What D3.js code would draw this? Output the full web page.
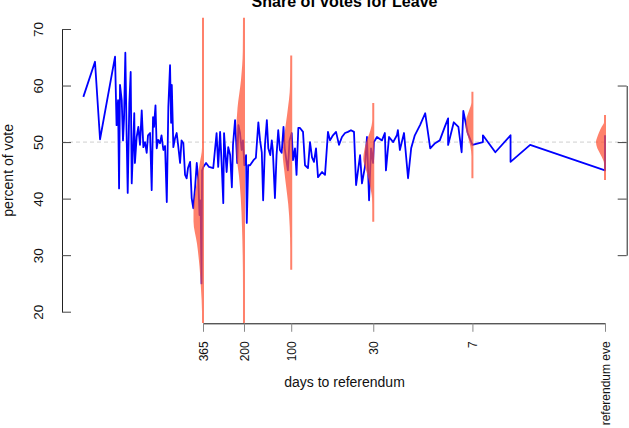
<!DOCTYPE html>
<html>
<head>
<meta charset="utf-8">
<script src="https://cdn.jsdelivr.net/npm/d3@7"></script>
<style>
  body { margin: 0; background: #fff; }
  svg { display: block; font-family: "Liberation Sans", Arial, Helvetica, sans-serif; }
</style>
</head>
<body>
<svg width="629" height="428"></svg>
<script>
// Polls: days before the referendum and share for Leave (%)
var pollDays = [2113, 1781, 1654, 1327, 1298, 1270, 1251, 1234, 1203, 1181,
  1163, 1141, 1121, 1102, 1076, 1055, 1039, 1020, 1001, 991,
  966, 943, 920, 897, 876, 855, 834, 818, 794, 775,
  760, 749, 733, 720, 706, 686, 671, 653, 637, 621,
  607, 592, 583, 577, 564, 550, 537, 526, 511, 500,
  487, 475, 464, 455, 441, 431, 421, 410, 400, 391,
  384, 378, 373, 370, 363, 349, 334, 314, 299, 292,
  284, 277, 271, 268, 258, 252, 245, 239, 235, 228,
  223, 221, 217, 212, 207, 203, 199, 194, 192, 188,
  183, 174, 168, 162, 158, 154, 151, 147, 143, 140,
  136, 133, 131, 127, 124, 121, 118, 115, 112, 110,
  107, 105, 102.5, 99.3, 97.4, 94.6, 92.5, 90.1, 87.9, 84.1,
  81.7, 78.2, 75.9, 73.7, 71.6, 69.5, 67.5, 63.6, 60.9, 58.3,
  56.6, 54.2, 51.8, 49.6, 47.5, 45.4, 43.5, 41.6, 39.8, 38.6,
  36.4, 35.4, 33.9, 32.9, 31.9, 31.0, 30.1, 29.7, 28.4, 26.4,
  25.3, 24.9, 23.8, 22.4, 21.2, 20.9, 20.3, 19.1, 18.0, 17.2,
  16.3, 15.1, 14.0, 13.0, 12.1, 11.3, 10.5, 10.0, 10.0, 9.2,
  8.6, 8.2, 8.0, 7.5, 7.0, 6.0, 6.0, 5.0, 4.0, 4.0,
  3.0, 1, 1];
var pollLeave = [58.0, 64.2, 50.5, 65.1, 53.0, 57.4, 41.8, 60.1, 57.4, 50.3,
  54.2, 65.8, 52.1, 41.0, 56.9, 62.4, 42.7, 48.6, 55.1, 46.3,
  50.9, 52.7, 49.5, 55.6, 49.1, 50.0, 48.1, 51.2, 51.6, 41.5,
  54.4, 52.7, 56.5, 48.9, 50.4, 49.8, 51.2, 48.6, 49.3, 39.4,
  56.2, 63.6, 53.4, 60.1, 49.1, 50.7, 51.6, 49.5, 46.3, 50.3,
  49.8, 44.2, 43.6, 45.4, 46.5, 40.1, 38.3, 42.0, 46.3, 43.3,
  37.1, 39.7, 25.0, 45.0, 45.6, 46.3, 45.6, 45.4, 51.6, 45.6,
  51.8, 45.6, 39.2, 51.6, 44.7, 49.1, 47.7, 42.0, 49.5, 53.9,
  48.6, 46.3, 53.0, 51.6, 48.6, 50.3, 45.9, 47.7, 35.7, 45.9,
  45.9, 46.8, 47.2, 53.5, 50.3, 48.2, 39.7, 49.5, 53.9, 48.9,
  47.7, 50.3, 48.6, 40.1, 47.7, 52.1, 48.6, 48.1, 52.7, 48.9,
  46.5, 45.0, 50.3, 51.6, 46.8, 48.9, 44.2, 52.5, 52.5, 51.8,
  45.9, 45.4, 50.0, 47.3, 46.5, 48.9, 43.8, 44.7, 44.2, 51.8,
  50.3, 51.2, 51.8, 49.5, 50.9, 51.6, 51.8, 52.1, 51.8, 42.4,
  47.7, 42.7, 45.6, 50.9, 39.7, 48.9, 46.3, 50.0, 50.9, 50.3,
  51.6, 45.0, 50.9, 50.0, 51.2, 52.1, 48.6, 51.6, 43.6, 48.9,
  51.2, 53.0, 55.1, 48.9, 49.8, 50.3, 52.7, 54.2, 49.5, 53.5,
  52.7, 48.2, 55.5, 51.6, 49.5, 50.0, 51.2, 48.2, 51.2, 46.5,
  49.5, 45.0, 51.2];

// Axis ticks
var dayTicks = [365, 200, 100, 30, 7, 1];
var dayLabels = ["365", "200", "100", "30", "7", "referendum eve"];
var pctTicks = [20, 30, 40, 50, 60, 70];
var rightTicks = [30, 40, 50, 60];

// Density of the estimate at each tick day
var pct365 = [72, 49, 46, 42, 38, 36, 32, 28, 24, 20, 18];
var dens365 = [0, 0, 0.035, 0.07, 0.095, 0.095, 0.06, 0.035, 0.02, 0.008, 0];
var pct200 = [72, 66, 61, 56, 52, 48, 44, 40, 35, 30, 24, 18];
var dens200 = [0, 0.012, 0.03, 0.065, 0.076, 0.075, 0.05, 0.032, 0.02, 0.013, 0.006, 0];
var pct100 = [65.3, 60, 55, 51, 48, 45, 42, 39, 35, 31, 27.4];
var dens100 = [0, 0.012, 0.04, 0.07, 0.085, 0.07, 0.05, 0.03, 0.015, 0.006, 0];
var pct30 = [56.9, 54, 52, 50, 48, 47, 45.5, 44, 42, 40, 38, 35.9];
var dens30 = [0, 0.008, 0.03, 0.07, 0.095, 0.1, 0.08, 0.055, 0.03, 0.012, 0.004, 0];
var pct7 = [58.9, 57, 55.5, 54, 52.7, 51, 49.2, 47.5, 45.5, 43.6];
var dens7 = [0, 0.01, 0.035, 0.062, 0.068, 0.045, 0.02, 0.007, 0.002, 0];
var pctEve = [54.8, 53.5, 52.7, 51.7, 50.9, 50, 48.9, 48, 47.4, 46.2, 45, 43.3];
var densEve = [0, 0.005, 0.033, 0.06, 0.077, 0.09, 0.077, 0.05, 0.033, 0.007, 0.002, 0];

var svg = d3.select("svg"),
  width = +svg.attr("width"),
  height = +svg.attr("height");

var x = d3.scaleLog().domain([365, 1]).range([203, 605]);
var y = d3.scaleLinear().domain([20, 70]).range([311.7, 29]);
var yRight = d3.scaleLinear().domain([30, 60]).range([y(30), y(60)]);
var wid = d3.scaleLinear().domain([0, 0.1]).range([0, 10]);

// plot region clip
svg.append("defs").append("clipPath").attr("id", "plotclip")
  .append("rect").attr("x", 62).attr("y", 17).attr("width", 565).attr("height", 306);

// reference line at 50%
svg.append("line")
  .attr("x1", 62).attr("x2", 627)
  .attr("y1", y(50)).attr("y2", y(50))
  .attr("stroke", "#cfcfcf")
  .attr("stroke-dasharray", "4,3");

const plot = svg.append("g").attr("clip-path", "url(#plotclip)");

// polls line
var polls = pollDays.map((d, i) => ({ day: d, pct: pollLeave[i] }));
plot.append("path")
  .datum(polls)
  .attr("fill", "none")
  .attr("stroke", "#0000ff")
  .attr("stroke-width", 1.8)
  .attr("stroke-linejoin", "round")
  .attr("d", d3.line().x((d) => x(d.day)).y((d) => y(d.pct)));

// half violins
var violins = [
  { day: 365, pct: pct365, dens: dens365 },
  { day: 200, pct: pct200, dens: dens200 },
  { day: 100, pct: pct100, dens: dens100 },
  { day: 30, pct: pct30, dens: dens30 },
  { day: 7, pct: pct7, dens: dens7 },
  { day: 1, pct: pctEve, dens: densEve }
];

violins.forEach((v) => {
  var cx = x(v.day);
  var pts = v.pct.map((p, i) => ({ pct: p, dens: v.dens[i] }));
  plot.append("path")
    .datum(pts)
    .attr("fill", "#ff5032")
    .attr("fill-opacity", 0.72)
    .attr("d", d3.area()
      .curve(d3.curveMonotoneY)
      .y((d) => y(d.pct))
      .x0((d) => cx - Math.max(1, wid(d.dens)))
      .x1(cx + 1));
});

// left axis
var gy = svg.append("g")
  .attr("transform", "translate(62,0)")
  .call(d3.axisLeft(y).tickValues(pctTicks).tickSize(-9).tickSizeOuter(0));
gy.select(".domain").attr("stroke", "#222");
gy.selectAll(".tick line").attr("stroke", "#444");
gy.selectAll(".tick text")
  .attr("x", 0).attr("dy", 0)
  .attr("text-anchor", "middle")
  .attr("transform", "translate(-19,0) rotate(-90)")
  .attr("fill", "#111")
  .style("font-size", "13.5px")
  .style("font-family", "Liberation Sans, Arial, sans-serif");

// right axis (no labels)
var gr = svg.append("g")
  .attr("transform", "translate(626.7,0)")
  .call(d3.axisRight(yRight).tickValues(rightTicks).tickSize(-9).tickSizeOuter(0).tickFormat(""));
gr.select(".domain").attr("stroke", "#222");
gr.selectAll(".tick line").attr("stroke", "#444");

// bottom axis
var gx = svg.append("g")
  .attr("transform", "translate(0,323.3)")
  .call(d3.axisBottom(x).tickValues(dayTicks).tickSize(8.5).tickSizeOuter(0)
    .tickFormat((d, i) => dayLabels[i]));
gx.select(".domain").attr("stroke", "#111");
gx.selectAll(".tick line").attr("stroke", "#888");
gx.selectAll(".tick text")
  .attr("x", 0).attr("y", 0).attr("dy", "0.35em")
  .attr("text-anchor", "end")
  .attr("transform", "translate(0,18) rotate(-90)")
  .attr("fill", "#111")
  .style("font-size", "12px")
  .style("font-family", "Liberation Sans, Arial, sans-serif");

// titles
svg.append("text")
  .attr("x", 344.5).attr("y", 6.5)
  .attr("text-anchor", "middle")
  .style("font-size", "16px")
  .style("font-weight", "bold")
  .text("Share of votes for Leave");

svg.append("text")
  .attr("x", 344.5).attr("y", 387)
  .attr("text-anchor", "middle")
  .attr("fill", "#111")
  .style("font-size", "14px")
  .text("days to referendum");

svg.append("text")
  .attr("transform", "translate(12.5," + (29 + 311.7) / 2 + ") rotate(-90)")
  .attr("text-anchor", "middle")
  .attr("fill", "#111")
  .style("font-size", "14px")
  .text("percent of vote");
</script>
</body>
</html>
